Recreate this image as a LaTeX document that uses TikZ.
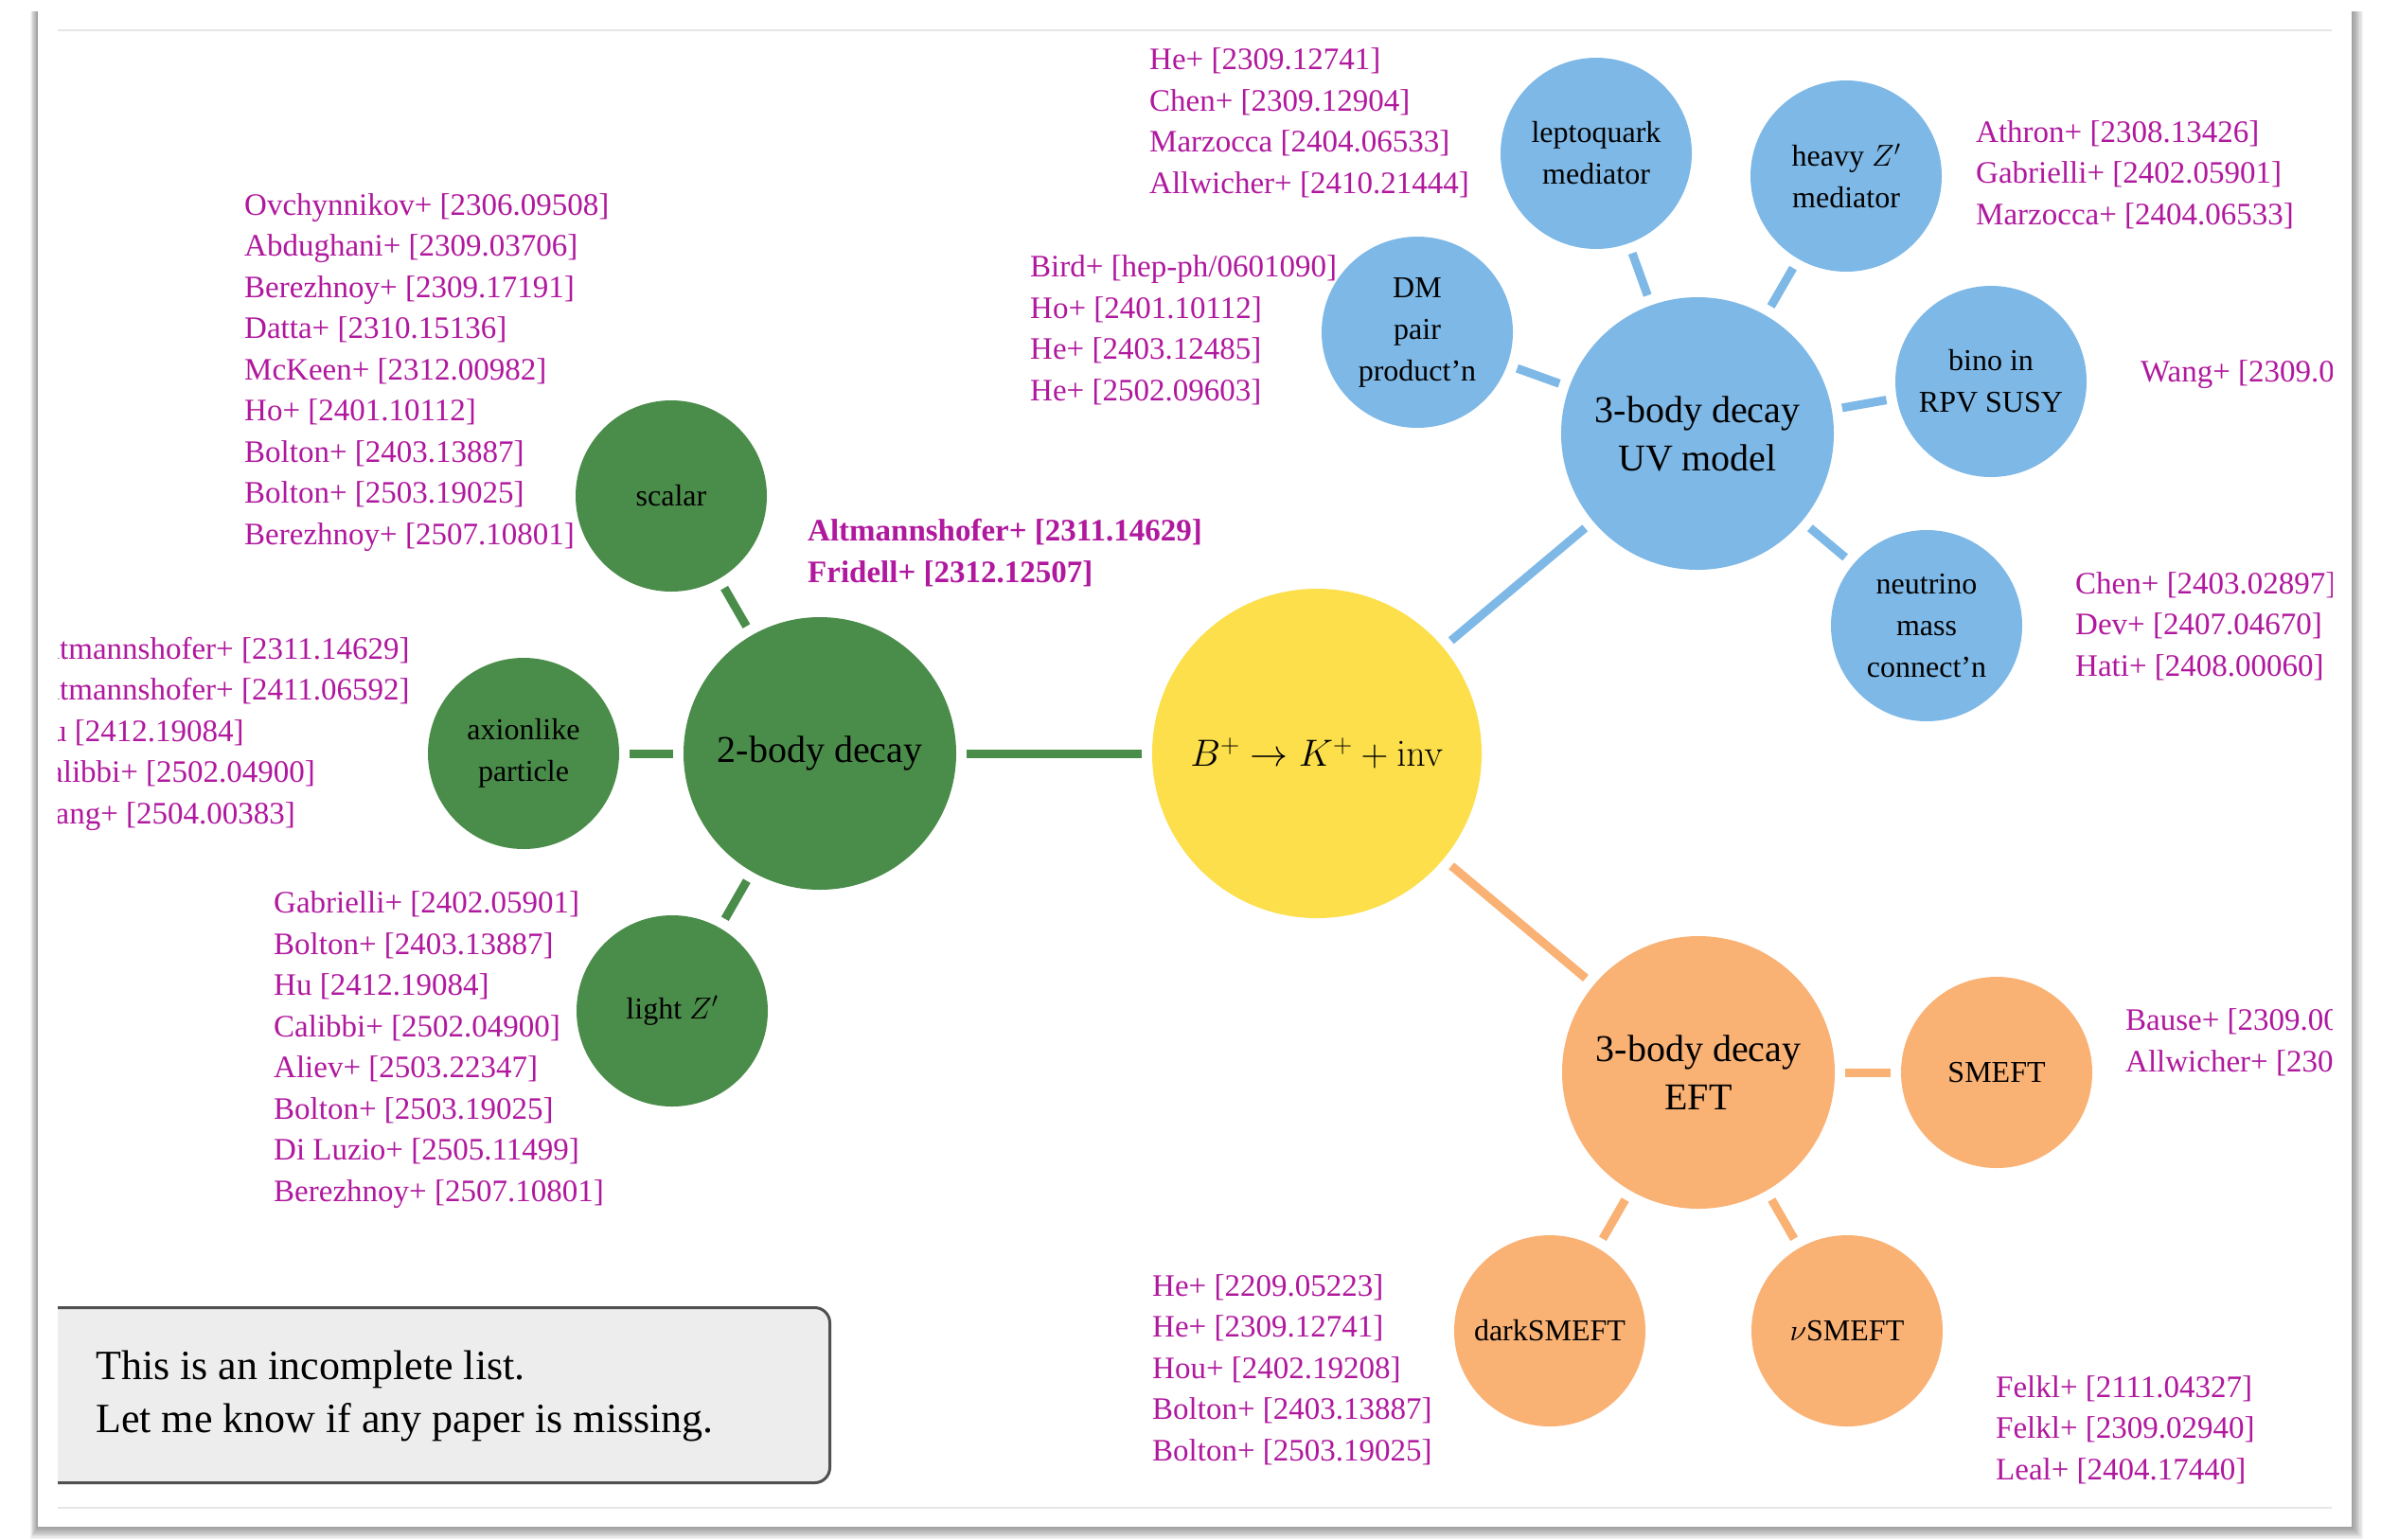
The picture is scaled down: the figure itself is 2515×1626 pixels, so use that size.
\RequirePackage{fix-cm}
\documentclass[tikz,border=0pt]{standalone}
\usepackage[no-math]{fontspec}
\setmainfont{Liberation Serif}
\definecolor{gcol}{HTML}{4A8C4A}
\definecolor{bcol}{HTML}{7EB8E6}
\definecolor{ycol}{HTML}{FCDF4A}
\definecolor{ocol}{HTML}{F9B174}
\definecolor{refc}{HTML}{B0189E}
\definecolor{boxfill}{HTML}{EDEDED}
\definecolor{boxline}{HTML}{505050}
\definecolor{faint}{HTML}{E6E6E6}
\tikzset{
  bub/.style={circle, inner sep=0pt, align=center, text=black, font=\fontsize{32}{44}\selectfont},
  smallbub/.style={bub, minimum size=202pt},
  bigbub/.style={bub, minimum size=288pt, font=\fontsize{40}{51}\selectfont},
  refs/.style={anchor=base west, align=left, inner sep=0pt, text=refc, font=\fontsize{33}{43.5}\selectfont},
  conn/.style={line width=9pt, shorten >=11pt, shorten <=11pt},
}
\begin{document}
\begin{tikzpicture}[x=1pt, y=-1pt]
\useasboundingbox (0,0) rectangle (2515,1626);
\fill[white] (0,0) rectangle (2515,1626);
% page shadow
\foreach \s in {1,...,10}
  \fill[black, opacity=0.045] ({40-0.8*\s},12) rectangle ({2484+1.2*\s},{1613+1.3*\s});
\fill[white] (40,10) rectangle (2484,1613);

\begin{scope}
\clip (61,0) rectangle (2463,1626);
\draw[faint, line width=2pt] (61,32) -- (2463,32);
\draw[faint, line width=2pt] (61,1593) -- (2463,1593);

% nodes
\node[bub, minimum size=348pt, fill=ycol, font=\fontsize{40}{51}\selectfont] (root) at (1391,796) {$B^+\to K^+ + \mathrm{inv}$};

\node[bigbub, fill=gcol] (two) at (866,796) {2-body decay};
\node[smallbub, fill=gcol] (scalar) at (709,524) {scalar};
\node[smallbub, fill=gcol] (alp) at (553,796) {axionlike\\particle};
\node[smallbub, fill=gcol] (lightz) at (710,1068) {light $Z'$};

\node[bigbub, fill=bcol] (uv) at (1793,458) {3-body decay\\UV model};
\node[smallbub, fill=bcol] (dm) at (1497,351) {DM\\pair\\product’n};
\node[smallbub, fill=bcol] (lq) at (1686,162) {leptoquark\\mediator};
\node[smallbub, fill=bcol] (hz) at (1950,186) {heavy $Z'$\\mediator};
\node[smallbub, fill=bcol] (bino) at (2103,403) {bino in\\RPV SUSY};
\node[smallbub, fill=bcol] (numass) at (2035,661) {neutrino\\mass\\connect’n};

\node[bigbub, fill=ocol] (eft) at (1794,1133) {3-body decay\\EFT};
\node[smallbub, fill=ocol] (smeft) at (2109,1133) {SMEFT};
\node[smallbub, fill=ocol] (dark) at (1637,1406) {darkSMEFT};
\node[smallbub, fill=ocol] (nusmeft) at (1951,1406) {$\nu$SMEFT};

% connectors
\draw[conn, gcol] (root) -- (two);
\draw[conn, gcol] (two) -- (scalar);
\draw[conn, gcol] (two) -- (alp);
\draw[conn, gcol] (two) -- (lightz);
\draw[conn, bcol] (root) -- (uv);
\draw[conn, bcol] (uv) -- (dm);
\draw[conn, bcol] (uv) -- (lq);
\draw[conn, bcol] (uv) -- (hz);
\draw[conn, bcol] (uv) -- (bino);
\draw[conn, bcol] (uv) -- (numass);
\draw[conn, ocol] (root) -- (eft);
\draw[conn, ocol] (eft) -- (smeft);
\draw[conn, ocol] (eft) -- (dark);
\draw[conn, ocol] (eft) -- (nusmeft);

% reference lists (anchor = baseline of the last line)
\node[refs] (rscalar) at (258,575) {Ovchynnikov+ [2306.09508]\\Abdughani+ [2309.03706]\\Berezhnoy+ [2309.17191]\\Datta+ [2310.15136]\\McKeen+ [2312.00982]\\Ho+ [2401.10112]\\Bolton+ [2403.13887]\\Bolton+ [2503.19025]\\Berezhnoy+ [2507.10801]};
\node[refs] (ralp) at (30,870) {Altmannshofer+ [2311.14629]\\Altmannshofer+ [2411.06592]\\Hu [2412.19084]\\Calibbi+ [2502.04900]\\Wang+ [2504.00383]};
\node[refs] (rlightz) at (289,1269) {Gabrielli+ [2402.05901]\\Bolton+ [2403.13887]\\Hu [2412.19084]\\Calibbi+ [2502.04900]\\Aliev+ [2503.22347]\\Bolton+ [2503.19025]\\Di Luzio+ [2505.11499]\\Berezhnoy+ [2507.10801]};
\node[refs, font=\fontsize{33}{43.5}\selectfont\bfseries] (rtwo) at (853,615) {Altmannshofer+ [2311.14629]\\Fridell+ [2312.12507]};
\node[refs] (rlq) at (1214,204) {He+ [2309.12741]\\Chen+ [2309.12904]\\Marzocca [2404.06533]\\Allwicher+ [2410.21444]};
\node[refs] (rdm) at (1088,423) {Bird+ [hep-ph/0601090]\\Ho+ [2401.10112]\\He+ [2403.12485]\\He+ [2502.09603]};
\node[refs] (rhz) at (2087,237) {Athron+ [2308.13426]\\Gabrielli+ [2402.05901]\\Marzocca+ [2404.06533]};
\node[refs] (rbino) at (2261,403) {Wang+ [2309.0};
\node[refs] (rnumass) at (2192,714) {Chen+ [2403.02897]\\Dev+ [2407.04670]\\Hati+ [2408.00060]};
\node[refs] (rsmeft) at (2245,1132) {Bause+ [2309.00\\Allwicher+ [230};
\node[refs] (rdark) at (1217,1543) {He+ [2209.05223]\\He+ [2309.12741]\\Hou+ [2402.19208]\\Bolton+ [2403.13887]\\Bolton+ [2503.19025]};
\node[refs] (rnusmeft) at (2108,1563) {Felkl+ [2111.04327]\\Felkl+ [2309.02940]\\Leal+ [2404.17440]};

% note box
\node[draw=boxline, fill=boxfill, line width=3pt, rounded corners=16pt, anchor=north west, minimum width=855pt, minimum height=185pt, inner sep=0pt] (notebox) at (20,1380) {};
\node[anchor=base west, align=left, inner sep=0pt, text=black, font=\fontsize{44}{56}\selectfont] (notetext) at (101,1513) {This is an incomplete list.\\Let me know if any paper is missing.};
\end{scope}
\end{tikzpicture}
\end{document}
